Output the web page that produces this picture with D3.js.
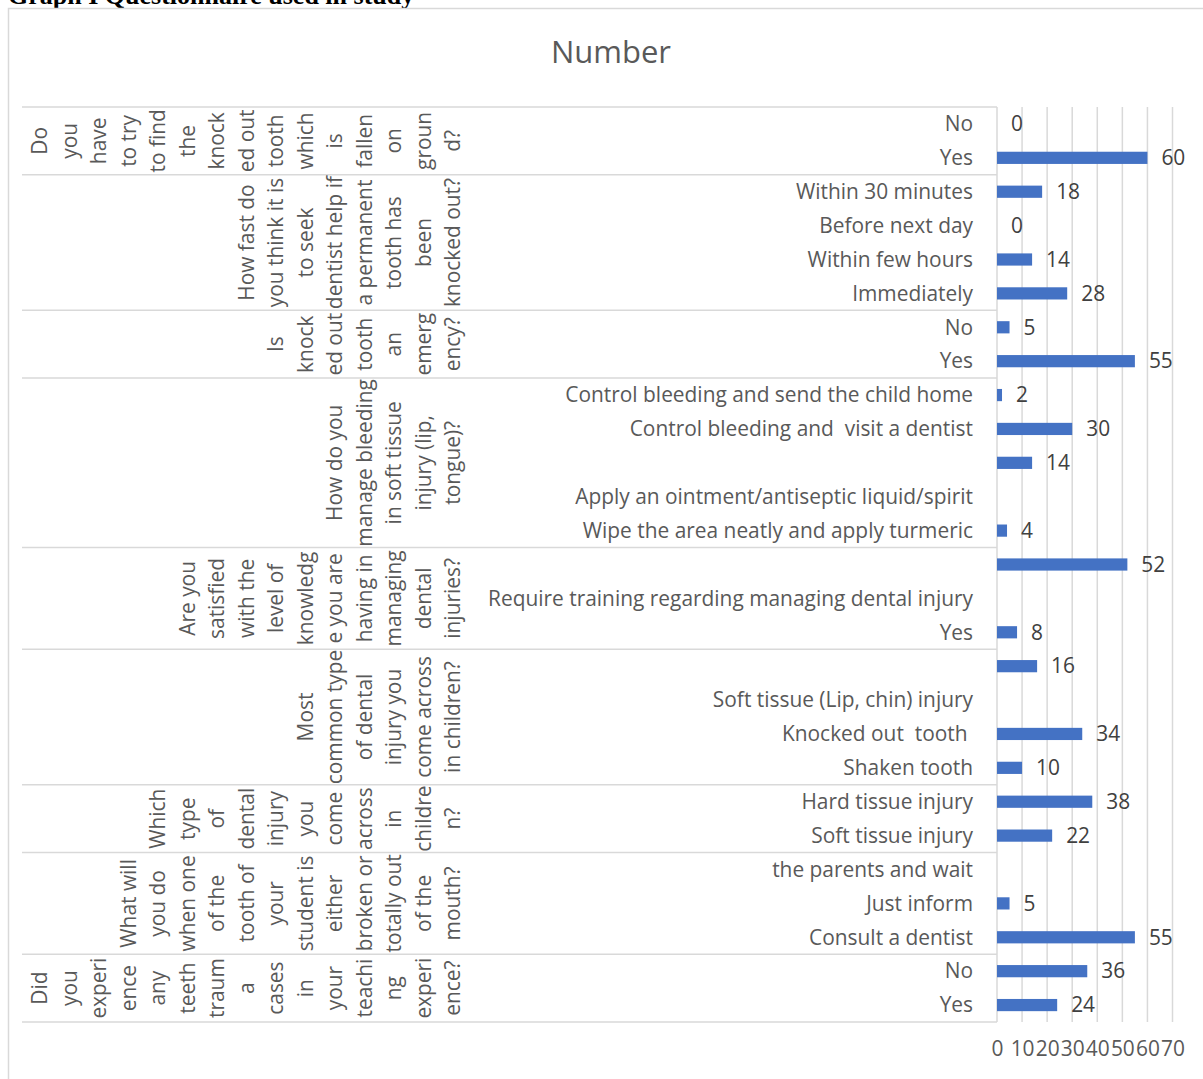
<!DOCTYPE html>
<html>
<head>
<meta charset="utf-8">
<script src="https://cdn.jsdelivr.net/npm/d3@7"></script>
<style>
  body { margin: 0; background: #fff; }
  svg text { font-family: "Open Sans", sans-serif; white-space: pre; }
</style>
</head>
<body>
<svg id="chart" width="1203" height="1079"></svg>
<script>
// categories, top to bottom, as they appear on the axis
var categories = ["No", "Yes",
  "Within 30 minutes", "Before next day", "Within few hours", "Immediately",
  "No", "Yes",
  "Control bleeding and send the child home", "Control bleeding and  visit a dentist", "",
  "Apply an ointment/antiseptic liquid/spirit", "Wipe the area neatly and apply turmeric",
  "", "Require training regarding managing dental injury", "Yes",
  "", "Soft tissue (Lip, chin) injury", "Knocked out  tooth ", "Shaken tooth",
  "Hard tissue injury", "Soft tissue injury",
  "the parents and wait", "Just inform", "Consult a dentist",
  "No", "Yes"];

var values = [0, 60, 18, 0, 14, 28, 5, 55, 2, 30, 14, null, 4, 52, null, 8,
  16, null, 34, 10, 38, 22, null, 5, 55, 36, 24];

// question groups (outer category level), with the wrapped lines as shown
var groupSizes = [2, 4, 2, 5, 3, 4, 2, 3, 2];
var groupLabels = [
  "Do|you|have|to try|to find|the|knock|ed out|tooth|which|is|fallen|on|groun|d?",
  "How fast do|you think it is|to seek|dentist help if|a permanent|tooth has|been|knocked out?",
  "Is|knock|ed out|tooth|an|emerg|ency?",
  "How do you|manage bleeding|in soft tissue|injury (lip,|tongue)?",
  "Are you|satisfied|with the|level of|knowledg|e you are|having in|managing|dental|injuries?",
  "Most|common type|of dental|injury you|come across|in children?",
  "Which|type|of|dental|injury|you|come|across|in|childre|n?",
  "What will|you do|when one|of the|tooth of|your|student is|either|broken or|totally out|of the|mouth?",
  "Did|you|experi|ence|any|teeth|traum|a|cases|in|your|teachi|ng|experi|ence?"
];

var xTicks = [0, 10, 20, 30, 40, 50, 60, 70];

var svg = d3.select('#chart');
var gridColor = '#d9d9d9';
var fs = '20.9px';

// caption above the chart, cut by the top of the page
svg.append('text')
  .attr('x', 8).attr('y', 4)
  .style('font-family', '"Liberation Serif", "Times New Roman", serif')
  .style('font-weight', 'bold').style('font-size', '26px')
  .attr('fill', '#000')
  .text('Graph I Questionnaire used in study');

// chart area border
svg.append('rect')
  .attr('x', 8.5).attr('y', 8.5).attr('width', 1300).attr('height', 1200)
  .attr('fill', '#fff').attr('stroke', gridColor).attr('stroke-width', 1.5);

svg.append('text')
  .attr('x', 611).attr('y', 63)
  .attr('text-anchor', 'middle')
  .style('font-size', '31px').attr('fill', '#595959')
  .text('Number');

var plotTop = 107, plotBottom = 1022;
var y = d3.scaleBand().domain(d3.range(categories.length)).range([plotTop, plotBottom]);
var x = d3.scaleLinear().domain([0, 70]).range([997, 1172.5]);
var barH = y.bandwidth() * 0.36;

// gridlines
svg.append('g').selectAll('line').data(xTicks.slice(1)).enter().append('line')
  .attr('x1', function (d) { return x(d); }).attr('x2', function (d) { return x(d); })
  .attr('y1', plotTop).attr('y2', plotBottom)
  .attr('stroke', gridColor).attr('stroke-width', 1.5);

// group boundaries
var bounds = [0];
groupSizes.forEach(function (n, i) { bounds.push(bounds[i] + n); });

function edgeY(k) { return k < categories.length ? y(k) : plotBottom; }

svg.append('g').selectAll('line').data(bounds).enter().append('line')
  .attr('x1', 22).attr('x2', x(0))
  .attr('y1', edgeY).attr('y2', edgeY)
  .attr('stroke', gridColor).attr('stroke-width', 1.5);

// category axis line
svg.append('line')
  .attr('x1', x(0)).attr('x2', x(0)).attr('y1', plotTop).attr('y2', plotBottom)
  .attr('stroke', gridColor).attr('stroke-width', 1.5);

// inner category labels
svg.append('g').selectAll('text').data(categories).enter().append('text')
  .attr('x', 973)
  .attr('y', function (d, i) { return y(i) + y.bandwidth() / 2; })
  .attr('dy', '0.35em')
  .attr('text-anchor', 'end')
  .style('font-size', fs).attr('fill', '#595959')
  .text(function (d) { return d; });

// rotated question labels
var lineGap = 29.5, lastLineX = 453;
groupLabels.forEach(function (label, gi) {
  var lines = label.split('|');
  var cy = (edgeY(bounds[gi]) + edgeY(bounds[gi + 1])) / 2;
  svg.append('g').selectAll('text').data(lines).enter().append('text')
    .attr('transform', function (d, i) {
      var lx = lastLineX - (lines.length - 1 - i) * lineGap;
      return 'translate(' + lx + ',' + cy + ') rotate(-90)';
    })
    .attr('dy', '0.35em')
    .attr('text-anchor', 'middle')
    .style('font-size', fs).attr('fill', '#595959')
    .text(function (d) { return d; });
});

// bars
var rows = values.map(function (v, i) { return { i: i, v: v }; })
  .filter(function (d) { return d.v !== null; });

svg.append('g').selectAll('rect').data(rows).enter().append('rect')
  .attr('x', x(0))
  .attr('y', function (d) { return y(d.i) + (y.bandwidth() - barH) / 2; })
  .attr('width', function (d) { return x(d.v) - x(0); })
  .attr('height', barH)
  .attr('fill', '#4472c4');

// data labels
svg.append('g').selectAll('text').data(rows).enter().append('text')
  .attr('x', function (d) { return x(d.v) + 14; })
  .attr('y', function (d) { return y(d.i) + y.bandwidth() / 2; })
  .attr('dy', '0.35em')
  .style('font-size', fs).attr('fill', '#404040')
  .text(function (d) { return d.v; });

// value axis
var xAxis = svg.append('g')
  .attr('transform', 'translate(0,' + 1041 + ')')
  .call(d3.axisBottom(x).tickValues(xTicks).tickSize(0).tickPadding(0));
xAxis.select('.domain').remove();
xAxis.selectAll('text')
  .attr('dy', '0.71em')
  .style('font-family', '"Open Sans", sans-serif')
  .style('font-size', fs).attr('fill', '#595959');
</script>
</body>
</html>
